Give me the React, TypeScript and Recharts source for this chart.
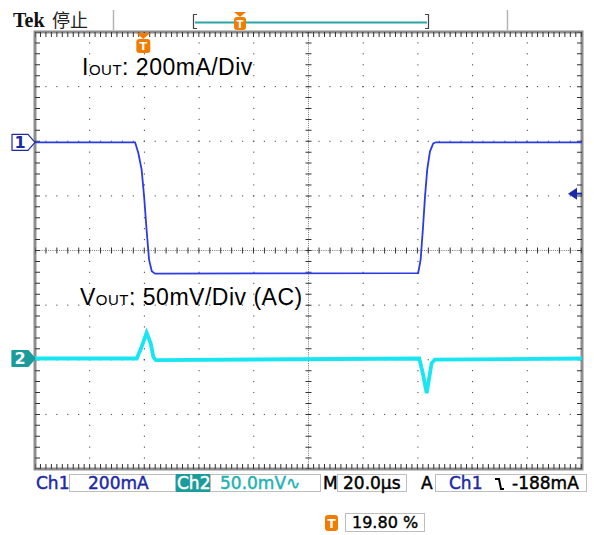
import React from "react";
import {
  ComposedChart,
  Line,
  XAxis,
  YAxis,
  ReferenceLine,
  ReferenceArea,
  ReferenceDot,
} from "recharts";

// Ch1: load current (mA), Ch2: output voltage AC (mV), time in µs from left edge
const ch1TimeUs = [0, 36.6, 37.8, 39.0, 39.9, 40.8, 41.7, 42.7, 43.9, 140.1, 141.0, 141.8, 142.6, 143.4, 144.4, 145.6, 146.6, 200];
const ch1CurrentMa = [0, 0, -40, -101, -199, -321, -430, -472, -481, -479, -430, -321, -199, -101, -34, -4, 0, 0];

const ch2TimeUs = [0, 37.2, 39.0, 40.8, 42.3, 43.3, 44.2, 140.5, 141.8, 143.2, 144.2, 145.0, 146.2, 200];
const ch2VoltageMv = [0, 0, 10.8, 23.6, 13.9, 1.2, -1.5, 0, -13.5, -31.8, -16.6, -4.4, -1, 0];

const timeGrid = [20, 40, 60, 80, 120, 140, 160, 180];
const divGrid = [-3, -2, -1, 1, 2, 3];

const triggerTimeUs = 39.6; // 19.80 %
const triggerLevelMa = -188;

const W = 594;
const H = 535;
const MARGIN = { top: 32, right: 12, bottom: 66, left: 35 };
const DIV = (H - MARGIN.top - MARGIN.bottom) / 8;
const MINOR = DIV / 5;
const PX_T = 20 / DIV; // µs per pixel
const PX_D = 1 / DIV; // div per pixel

const CH1_BLUE = "#2b3be6";
const CH1_NAVY = "#1c2aa6";
const CH2_CYAN = "#17e6f2";
const TEAL = "#1b9c9c";
const ORANGE = "#f27c00";

const ch1Data = ch1TimeUs.map((t, i) => ({ t, v: ch1CurrentMa[i] }));
const ch2Data = ch2TimeUs.map((t, i) => ({ t, v: ch2VoltageMv[i] }));

const font = '"DejaVu Sans", sans-serif';

function ChMarker(props: any) {
  const { cx, cy, label, filled } = props;
  const pts = `${cx - 23},${cy - 8} ${cx - 7},${cy - 8} ${cx},${cy} ${cx - 7},${cy + 8} ${cx - 23},${cy + 8}`;
  return (
    <g>
      <polygon
        points={pts}
        fill={filled ? TEAL : "#fff"}
        stroke={filled ? TEAL : CH1_NAVY}
        strokeWidth={1.2}
        strokeLinejoin="round"
      />
      <text
        x={cx - 15}
        y={cy + 6}
        textAnchor="middle"
        fontFamily={font}
        fontWeight="bold"
        fontSize={16}
        fill={filled ? "#fff" : CH1_NAVY}
      >
        {label}
      </text>
    </g>
  );
}

function TrigMarker(props: any) {
  const { cx, cy } = props;
  return (
    <g>
      <polygon points={`${cx - 7},${cy + 1} ${cx + 7},${cy + 1} ${cx},${cy + 7}`} fill={ORANGE} />
      <rect x={cx - 7} y={cy + 7} width={14} height={14} rx={3} fill={ORANGE} />
      <text x={cx} y={cy + 18} textAnchor="middle" fontFamily={font} fontWeight="bold" fontSize={11} fill="#fff">
        T
      </text>
    </g>
  );
}

function LevelArrow(props: any) {
  const { cx, cy } = props;
  return (
    <g>
      <polygon points={`${cx - 14},${cy} ${cx - 5},${cy - 6} ${cx - 5},${cy + 6}`} fill={CH1_NAVY} />
      <line x1={cx - 6} y1={cy} x2={cx} y2={cy} stroke={CH1_NAVY} strokeWidth={2} />
    </g>
  );
}

function StatusBox({ left, width }: { left: number; width: number }) {
  return (
    <div
      style={{
        position: "absolute",
        left,
        top: 474,
        width,
        height: 18,
        border: "1px solid #bdbdbd",
        boxSizing: "border-box",
        background: "#fff",
      }}
    />
  );
}

function StatusText({ left, color, children }: { left: number; color: string; children: React.ReactNode }) {
  return (
    <span
      style={{
        position: "absolute",
        left,
        top: 474,
        height: 18,
        lineHeight: "18px",
        fontFamily: font,
        fontSize: 17,
        color,
        WebkitTextStroke: `0.45px ${color}`,
        whiteSpace: "pre",
      }}
    >
      {children}
    </span>
  );
}

export default function App() {
  const dots = `1.2 ${MINOR - 1.2}`;
  return (
    <div style={{ position: "absolute", left: 0, top: 0, width: W, height: H, background: "#fff", overflow: "hidden" }}>
      <ComposedChart width={W} height={H} margin={MARGIN}>
        <XAxis xAxisId="t" type="number" dataKey="t" domain={[0, 200]} hide allowDataOverflow />
        <YAxis yAxisId="div" type="number" domain={[-4, 4]} hide allowDataOverflow />
        <YAxis yAxisId="ch1" type="number" domain={[(-4 - 1.981) * 200, (4 - 1.981) * 200]} hide allowDataOverflow />
        <YAxis yAxisId="ch2" type="number" domain={[(-4 + 1.977) * 50, (4 + 1.977) * 50]} hide allowDataOverflow />

        {timeGrid.map((t) => (
          <ReferenceLine key={`vx${t}`} xAxisId="t" yAxisId="div" x={t} stroke="#444" strokeWidth={1} strokeDasharray={dots} strokeDashoffset={0.6} />
        ))}
        {divGrid.map((d) => (
          <ReferenceLine key={`hy${d}`} xAxisId="t" yAxisId="div" y={d} stroke="#444" strokeWidth={1} strokeDasharray={dots} strokeDashoffset={0.6} />
        ))}

        {/* centre crosshair: fine dots + minor ticks */}
        <ReferenceLine xAxisId="t" yAxisId="div" x={100} stroke="#777" strokeWidth={1} strokeDasharray={`1 ${DIV / 25 - 1}`} />
        <ReferenceLine xAxisId="t" yAxisId="div" y={0} stroke="#777" strokeWidth={1} strokeDasharray={`1 ${DIV / 25 - 1}`} />
        <ReferenceLine xAxisId="t" yAxisId="div" x={100} stroke="#333" strokeWidth={6} strokeDasharray={`1 ${MINOR - 1}`} strokeDashoffset={0.5} />
        <ReferenceLine xAxisId="t" yAxisId="div" y={0} stroke="#333" strokeWidth={6} strokeDasharray={`1 ${MINOR - 1}`} strokeDashoffset={0.5} />

        {/* frame ticks */}
        <ReferenceLine xAxisId="t" yAxisId="div" y={4 - 2.5 * PX_D} stroke="#333" strokeWidth={5} strokeDasharray={`1 ${DIV / 10 - 1}`} strokeDashoffset={0.5} />
        <ReferenceLine xAxisId="t" yAxisId="div" y={-4 + 2.5 * PX_D} stroke="#333" strokeWidth={5} strokeDasharray={`1 ${DIV / 10 - 1}`} strokeDashoffset={0.5} />
        <ReferenceLine xAxisId="t" yAxisId="div" x={2.5 * PX_T} stroke="#333" strokeWidth={5} strokeDasharray={`1 ${MINOR - 1}`} strokeDashoffset={0.5} />
        <ReferenceLine xAxisId="t" yAxisId="div" x={200 - 2.5 * PX_T} stroke="#333" strokeWidth={5} strokeDasharray={`1 ${MINOR - 1}`} strokeDashoffset={0.5} />

        <ReferenceArea xAxisId="t" yAxisId="div" x1={0} x2={200} y1={-4} y2={4} fill="none" stroke="#8e8e8e" strokeWidth={3} />

        <Line
          xAxisId="t"
          yAxisId="ch2"
          data={ch2Data}
          dataKey="v"
          type="linear"
          stroke={CH2_CYAN}
          strokeWidth={3.8}
          dot={false}
          isAnimationActive={false}
        />
        <Line
          xAxisId="t"
          yAxisId="ch1"
          data={ch1Data}
          dataKey="v"
          type="linear"
          stroke={CH1_BLUE}
          strokeWidth={1.8}
          dot={false}
          isAnimationActive={false}
        />

        <ReferenceDot xAxisId="t" yAxisId="ch1" x={0} y={0} r={0} shape={(p: any) => <ChMarker {...p} label="1" />} />
        <ReferenceDot xAxisId="t" yAxisId="ch2" x={0} y={0} r={0} shape={(p: any) => <ChMarker {...p} label="2" filled />} />
        <ReferenceDot xAxisId="t" yAxisId="div" x={triggerTimeUs} y={4} r={0} shape={(p: any) => <TrigMarker {...p} />} />
        <ReferenceDot xAxisId="t" yAxisId="ch1" x={200} y={triggerLevelMa} r={0} shape={(p: any) => <LevelArrow {...p} />} />
      </ComposedChart>

      <svg width={W} height={H} style={{ position: "absolute", left: 0, top: 0, pointerEvents: "none" }}>
        {/* header */}
        <text x={13} y={27} fontFamily='"Liberation Serif", serif' fontWeight="bold" fontSize={20} fill="#111">
          Tek
        </text>
        <text x={52} y={27} fontFamily='"Noto Sans CJK SC", sans-serif' fontSize={18} fill="#222">
          停止
        </text>
        <line x1={113.5} y1={10} x2={113.5} y2={30} stroke="#b4b4b4" strokeWidth={1.5} />
        <line x1={507.5} y1={10} x2={507.5} y2={30} stroke="#b4b4b4" strokeWidth={1.5} />
        <line x1={195} y1={22.5} x2={427} y2={22.5} stroke="#2aa6a6" strokeWidth={2} />
        <path d="M197,14.5 H193.5 V28.5 H197" fill="none" stroke="#444" strokeWidth={1.2} />
        <path d="M425,14.5 H428.5 V28.5 H425" fill="none" stroke="#444" strokeWidth={1.2} />
        <polygon points="234,12 246,12 240,17" fill={ORANGE} />
        <rect x={234} y={17} width={12} height={13} rx={3} fill={ORANGE} />
        <text x={240} y={27.5} textAnchor="middle" fontFamily={font} fontWeight="bold" fontSize={10} fill="#fff">
          T
        </text>

        {/* annotations */}
        <text x={82} y={75} fontFamily='"Liberation Sans", Arial, sans-serif' fontSize={23} letterSpacing={0.5} fill="#000">
          I<tspan fontSize={15}>OUT</tspan>: 200mA/Div
        </text>
        <text x={80} y={305} fontFamily='"Liberation Sans", Arial, sans-serif' fontSize={23} letterSpacing={0.5} fill="#000">
          V<tspan fontSize={15}>OUT</tspan>: 50mV/Div (AC)
        </text>

        {/* bottom trigger position icon */}
        <rect x={325} y={515} width={13} height={16} rx={3} fill={ORANGE} />
        <text x={331.5} y={528} textAnchor="middle" fontFamily={font} fontWeight="bold" fontSize={12} fill="#fff">
          T
        </text>
      </svg>

      {/* status bar */}
      <StatusText left={36} color={CH1_NAVY}>Ch1</StatusText>
      <StatusBox left={69} width={107} />
      <StatusText left={88} color={CH1_NAVY}>200mA</StatusText>
      <div style={{ position: "absolute", left: 176, top: 474, width: 34, height: 18, background: TEAL }} />
      <StatusText left={177} color="#fff">Ch2</StatusText>
      <StatusBox left={210} width={111} />
      <StatusText left={220} color="#22b2b2">50.0mV∿</StatusText>
      <StatusText left={323} color="#000">M</StatusText>
      <StatusBox left={337} width={70} />
      <StatusText left={343} color="#000">20.0µs</StatusText>
      <StatusText left={421} color="#000">A</StatusText>
      <StatusBox left={435} width={152} />
      <StatusText left={449} color={CH1_NAVY}>Ch1</StatusText>
      <svg width={12} height={16} style={{ position: "absolute", left: 494, top: 476 }}>
        <path d="M1,3 H5 L7,13 H10" fill="none" stroke="#000" strokeWidth={2} />
      </svg>
      <StatusText left={512} color="#000">-188mA</StatusText>

      <div
        style={{
          position: "absolute",
          left: 345,
          top: 513,
          width: 80,
          height: 19,
          border: "1px solid #bdbdbd",
          boxSizing: "border-box",
          fontFamily: font,
          fontSize: 16,
          lineHeight: "17px",
          paddingLeft: 6,
          color: "#000",
          WebkitTextStroke: "0.4px #000",
          whiteSpace: "pre",
        }}
      >
        19.80 %
      </div>
    </div>
  );
}
